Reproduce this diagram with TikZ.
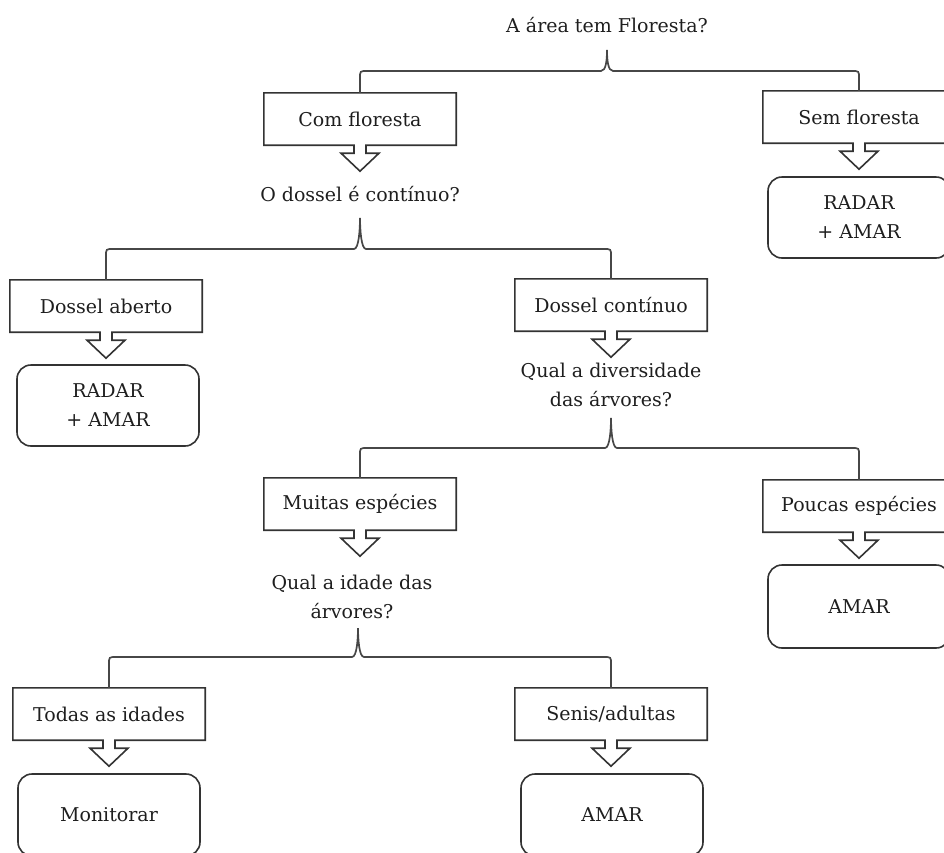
\documentclass[tikz,border=0pt]{standalone}
\usepackage{fontspec}
\setmainfont{DejaVu Serif}
\usetikzlibrary{calc}
\definecolor{ink}{HTML}{1E1E1E}
\definecolor{lin}{HTML}{333333}
\newcommand\boxarrow[1]{%
  \draw[outl] (#1.south west) -- (#1.north west) -- (#1.north east) -- (#1.south east)
    -- ($(#1.south)+(6,0)$) -- ++(0,8) -- ++(13,0) -- ($(#1.south)+(0,26)$)
    -- ($(#1.south)+(-19,8)$) -- ++(13,0) -- ($(#1.south)+(-6,0)$) -- cycle;}
\newcommand\bracelink[4]{%
  \draw[brc] (#1.north) -- ($(#1.north |- #3)+(0,7)$)
    .. controls ($(#1.north |- #3)$) .. ($(#1.north |- #3)+(7,0)$)
    -- ($(#3)+(-6,0)$)
    .. controls ($(#3)+(-1,0)$) and ($(#4)+(0,10)$) .. (#4)
    .. controls ($(#4)+(0,10)$) and ($(#3)+(1,0)$) .. ($(#3)+(6,0)$)
    -- ($(#2.north |- #3)+(-7,0)$)
    .. controls ($(#2.north |- #3)$) .. ($(#2.north |- #3)+(0,7)$)
    -- (#2.north);}
\begin{document}
\begin{tikzpicture}[x=1pt,y=-1pt,
  txt/.style={font=\fontsize{19}{29}\selectfont, align=center, text=ink, inner sep=0pt},
  qbox/.style={txt, minimum width=192pt, minimum height=52pt},
  rbox/.style={txt, draw=lin, line width=1.6pt, rounded corners=14pt, minimum width=182pt, minimum height=81pt},
  outl/.style={draw=lin, line width=1.6pt, line join=miter},
  brc/.style={draw=lin!90, line width=1.7pt}]
\useasboundingbox (0,0) rectangle (944,852);
\clip (0,0) rectangle (944,852);

% questions
\node[txt] (q1) at (607,25) {A área tem Floresta?};
\node[txt] (q2) at (360,194) {O dossel é contínuo?};
\node[txt] (q3) at (611,385) {Qual a diversidade\\das árvores?};
\node[txt] (q4) at (352,597) {Qual a idade das\\árvores?};

% decision boxes
\node[qbox] (cf) at (360,119) {Com floresta};
\node[qbox] (sf) at (859,117) {Sem floresta};
\node[qbox] (da) at (106,306) {Dossel aberto};
\node[qbox] (dc) at (611,305) {Dossel contínuo};
\node[qbox] (me) at (360,504) {Muitas espécies};
\node[qbox] (pe) at (859,506) {Poucas espécies};
\node[qbox] (ti) at (109,714) {Todas as idades};
\node[qbox] (sa) at (611,714) {Senis/adultas};
\foreach \n in {cf,sf,da,dc,me,pe,ti,sa} {\boxarrow{\n}}

% results
\node[rbox] (r1) at (859,217.5) {RADAR\\+ AMAR};
\node[rbox] (r2) at (108,405.5) {RADAR\\+ AMAR};
\node[rbox, minimum height=83pt] (r3) at (859,606.5) {AMAR};
\node[rbox, minimum height=82pt] (r4) at (109,815) {Monitorar};
\node[rbox, minimum height=82pt] (r5) at (612,815) {AMAR};

% braces
\coordinate (h1) at (607,71);  \coordinate (t1) at (607,50);
\coordinate (h2) at (360,249); \coordinate (t2) at (360,218);
\coordinate (h3) at (611,448); \coordinate (t3) at (611,418);
\coordinate (h4) at (358,657); \coordinate (t4) at (358,628);
\bracelink{cf}{sf}{h1}{t1}
\bracelink{da}{dc}{h2}{t2}
\bracelink{me}{pe}{h3}{t3}
\bracelink{ti}{sa}{h4}{t4}
\end{tikzpicture}
\end{document}
